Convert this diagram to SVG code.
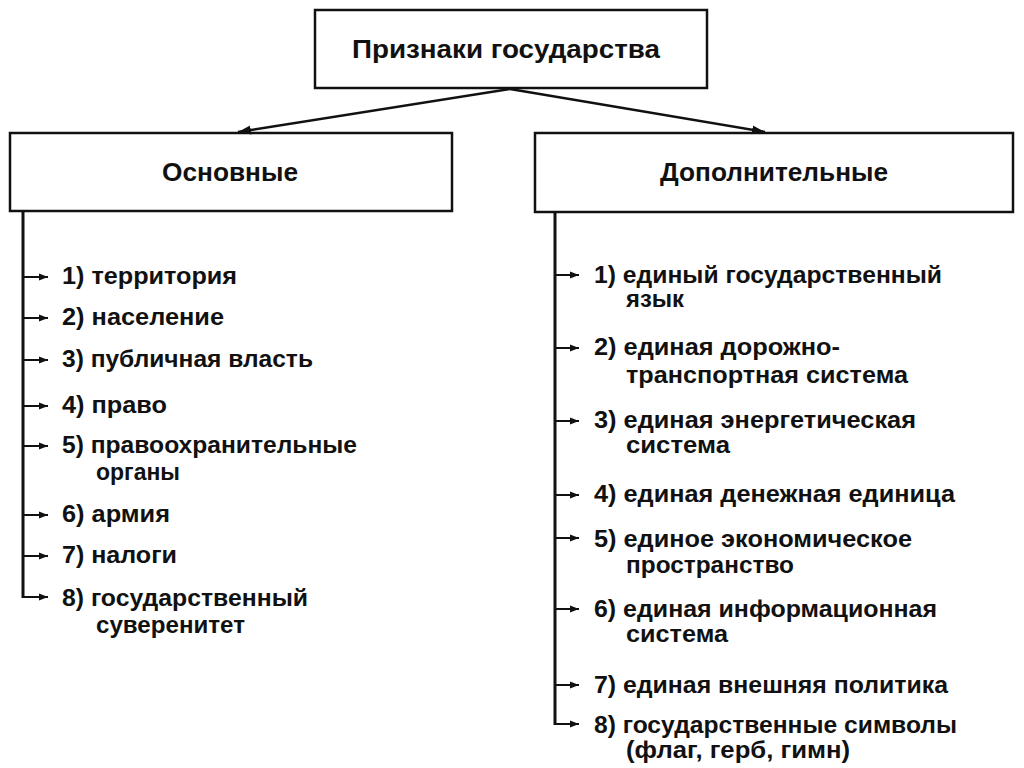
<svg xmlns="http://www.w3.org/2000/svg" width="1024" height="768" viewBox="0 0 1024 768">
<style>
.box{fill:#fff;stroke:#111;stroke-width:2.5}
.t{font-family:"Liberation Sans",Arial,sans-serif;font-weight:bold;font-size:23px;fill:#111}
.h{font-family:"Liberation Sans",Arial,sans-serif;font-weight:bold;font-size:25px;fill:#111}
.ln{fill:none;stroke:#111;stroke-width:3}
.ar{fill:none;stroke:#111;stroke-width:2;marker-end:url(#ah)}
.big{fill:none;stroke:#111;stroke-width:2.5;marker-end:url(#ahb)}
</style>
<defs>
<marker id="ah" markerWidth="10" markerHeight="8" refX="9" refY="4" orient="auto" markerUnits="userSpaceOnUse">
<path d="M0,0.5 L9,4 L0,7.5 Z" fill="#111"/>
</marker>
<marker id="ahb" markerWidth="14" markerHeight="10" refX="13" refY="5" orient="auto" markerUnits="userSpaceOnUse">
<path d="M0,0.5 L13,5 L0,9.5 Z" fill="#111"/>
</marker>
</defs>
<rect width="1024" height="768" fill="#fff"/>

<g id="root">
<rect class="box" x="315" y="10" width="392" height="78"/>
<text class="h" x="352" y="58" textLength="308" lengthAdjust="spacingAndGlyphs">Признаки государства</text>
</g>

<g id="basic">
<rect class="box" x="10" y="133" width="442" height="78"/>
<text class="h" x="162" y="181" textLength="136" lengthAdjust="spacingAndGlyphs">Основные</text>
</g>

<g id="extra">
<rect class="box" x="535" y="133" width="478" height="79"/>
<text class="h" x="660" y="181" textLength="228" lengthAdjust="spacingAndGlyphs">Дополнительные</text>
</g>

<g id="connectors">
<line class="big" x1="510" y1="89" x2="238" y2="132"/>
<line class="big" x1="510" y1="89" x2="765" y2="132"/>
<path class="ln" d="M23,211 V598"/>
<path class="ar" d="M23,277 H48"/>
<path class="ar" d="M23,318 H48"/>
<path class="ar" d="M23,360 H48"/>
<path class="ar" d="M23,406 H48"/>
<path class="ar" d="M23,446 H48"/>
<path class="ar" d="M23,515 H48"/>
<path class="ar" d="M23,556 H48"/>
<path class="ar" d="M23,597 H48"/>
<path class="ln" d="M555,212 V725"/>
<path class="ar" d="M555,275 H579"/>
<path class="ar" d="M555,348 H579"/>
<path class="ar" d="M555,421 H579"/>
<path class="ar" d="M555,495 H579"/>
<path class="ar" d="M555,538 H579"/>
<path class="ar" d="M555,609 H579"/>
<path class="ar" d="M555,685 H579"/>
<path class="ar" d="M555,724 H579"/>
</g>

<g id="basic-items">
<text class="t" x="62" y="284" textLength="175" lengthAdjust="spacingAndGlyphs">1) территория</text>
<text class="t" x="62" y="325" textLength="162" lengthAdjust="spacingAndGlyphs">2) население</text>
<text class="t" x="62" y="367" textLength="251" lengthAdjust="spacingAndGlyphs">3) публичная власть</text>
<text class="t" x="62" y="413" textLength="105" lengthAdjust="spacingAndGlyphs">4) право</text>
<text class="t" x="62" y="453" textLength="295" lengthAdjust="spacingAndGlyphs">5) правоохранительные</text>
<text class="t" x="96" y="480" textLength="84" lengthAdjust="spacingAndGlyphs">органы</text>
<text class="t" x="62" y="522" textLength="108" lengthAdjust="spacingAndGlyphs">6) армия</text>
<text class="t" x="62" y="563" textLength="115" lengthAdjust="spacingAndGlyphs">7) налоги</text>
<text class="t" x="62" y="606" textLength="246" lengthAdjust="spacingAndGlyphs">8) государственный</text>
<text class="t" x="96" y="633" textLength="149" lengthAdjust="spacingAndGlyphs">суверенитет</text>
</g>

<g id="extra-items">
<text class="t" x="594" y="283" textLength="348" lengthAdjust="spacingAndGlyphs">1) единый государственный</text>
<text class="t" x="626" y="307" textLength="58" lengthAdjust="spacingAndGlyphs">язык</text>
<text class="t" x="594" y="355" textLength="246" lengthAdjust="spacingAndGlyphs">2) единая дорожно-</text>
<text class="t" x="626" y="383" textLength="282" lengthAdjust="spacingAndGlyphs">транспортная система</text>
<text class="t" x="594" y="428" textLength="322" lengthAdjust="spacingAndGlyphs">3) единая энергетическая</text>
<text class="t" x="626" y="453" textLength="104" lengthAdjust="spacingAndGlyphs">система</text>
<text class="t" x="594" y="502" textLength="361" lengthAdjust="spacingAndGlyphs">4) единая денежная единица</text>
<text class="t" x="594" y="547" textLength="318" lengthAdjust="spacingAndGlyphs">5) единое экономическое</text>
<text class="t" x="626" y="573" textLength="168" lengthAdjust="spacingAndGlyphs">пространство</text>
<text class="t" x="594" y="617" textLength="343" lengthAdjust="spacingAndGlyphs">6) единая информационная</text>
<text class="t" x="626" y="642" textLength="102" lengthAdjust="spacingAndGlyphs">система</text>
<text class="t" x="594" y="693" textLength="354" lengthAdjust="spacingAndGlyphs">7) единая внешняя политика</text>
<text class="t" x="594" y="733" textLength="363" lengthAdjust="spacingAndGlyphs">8) государственные символы</text>
<text class="t" x="626" y="758" textLength="224" lengthAdjust="spacingAndGlyphs">(флаг, герб, гимн)</text>
</g>
</svg>
